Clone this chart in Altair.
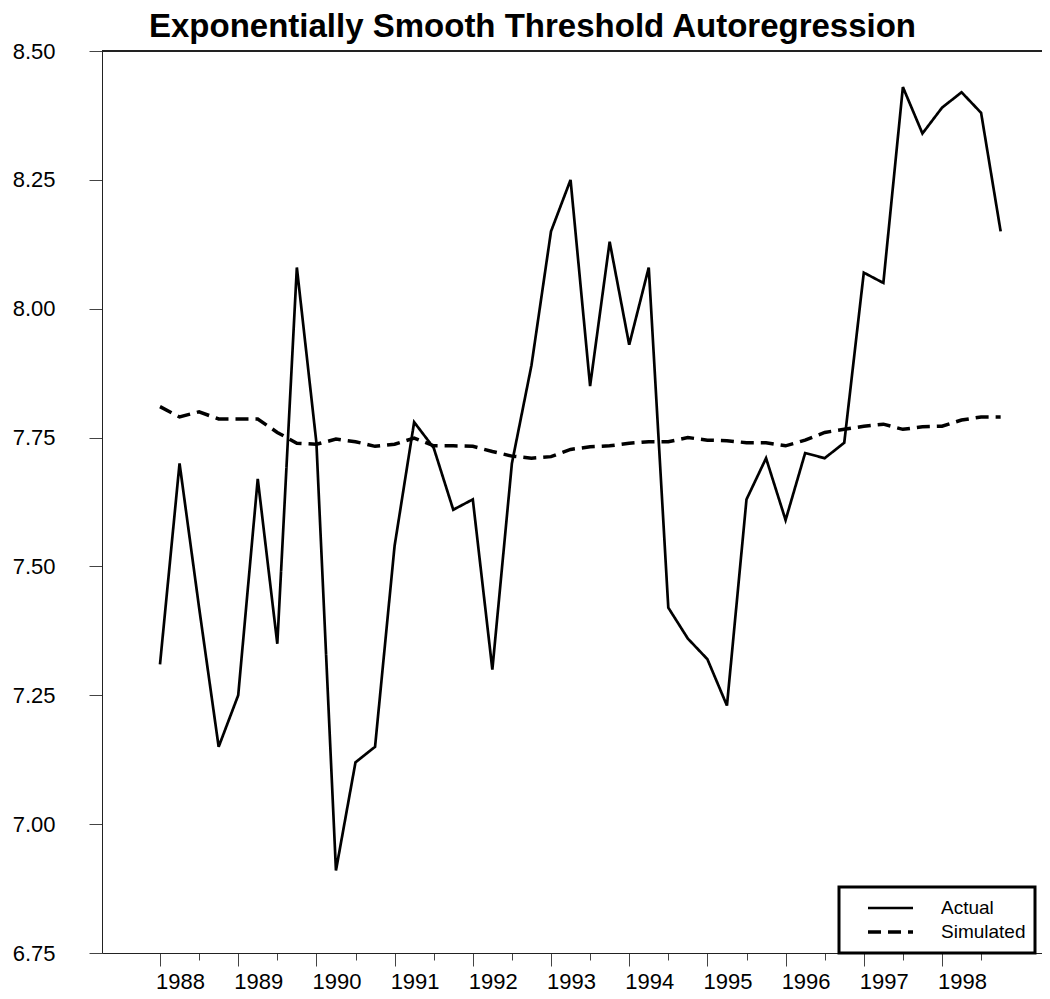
import altair as alt
import pandas as pd

# ---------------- data ----------------
years = list(range(1988, 1999))
quarter_steps = [0.0, 0.25, 0.5, 0.75]

actual = [
    7.31, 7.70, 7.42, 7.15,
    7.25, 7.67, 7.35, 8.08,
    7.74, 6.91, 7.12, 7.15,
    7.54, 7.78, 7.73, 7.61,
    7.63, 7.30, 7.70, 7.89,
    8.15, 8.25, 7.85, 8.13,
    7.93, 8.08, 7.42, 7.36,
    7.32, 7.23, 7.63, 7.71,
    7.59, 7.72, 7.71, 7.74,
    8.07, 8.05, 8.43, 8.34,
    8.39, 8.42, 8.38, 8.15,
]

simulated = [
    7.810, 7.790, 7.800, 7.786,
    7.786, 7.786, 7.760, 7.739,
    7.737, 7.747, 7.742, 7.733,
    7.737, 7.749, 7.734, 7.734,
    7.733, 7.723, 7.714, 7.710,
    7.713, 7.727, 7.732, 7.734,
    7.739, 7.742, 7.742, 7.750,
    7.745, 7.744, 7.740, 7.740,
    7.734, 7.745, 7.760, 7.766,
    7.772, 7.776, 7.766, 7.771,
    7.772, 7.784, 7.790, 7.790,
]

series_names = ["Actual", "Simulated"]
title_text = "Exponentially Smooth Threshold Autoregression"
y_ticks = [6.75, 7.00, 7.25, 7.50, 7.75, 8.00, 8.25, 8.50]
y_domain = [6.75, 8.50]

# ---------------- table ----------------
t = [y + q for y in years for q in quarter_steps]
df = pd.DataFrame({
    "t": t + t,
    "value": actual + simulated,
    "series": [series_names[0]] * len(actual) + [series_names[1]] * len(simulated),
})

FONT = "Liberation Sans"
PLOT_W = 940
PLOT_H = 902
x_domain = [1987.2583, 1987.2583 + PLOT_W / 78.2]
x_scale = alt.Scale(domain=x_domain, nice=False, zero=False)
y_scale = alt.Scale(domain=y_domain, nice=False, zero=False)

lines = alt.Chart(df).mark_line(color="black", strokeJoin="miter").encode(
    x=alt.X(
        "t:Q",
        scale=x_scale,
        axis=alt.Axis(
            values=t,
            labelExpr="datum.value % 1 === 0 ? format(datum.value, 'd') : ''",
            tickSize={"condition": {"test": "datum.value % 1 === 0", "value": 13}, "value": 7},
            labelOffset=20,
            labelPadding=5,
            labelFont=FONT,
            labelFontSize=22,
            labelColor="black",
            labelFlush=False,
            labelOverlap=False,
            title=None,
            grid=False,
            domainColor="#222222",
            tickColor="#444444",
            tickWidth=1,
        ),
    ),
    y=alt.Y(
        "value:Q",
        scale=y_scale,
        axis=alt.Axis(
            values=y_ticks,
            format=".2f",
            tickSize=13,
            labelPadding=34,
            labelFont=FONT,
            labelFontSize=22,
            labelColor="black",
            labelFlush=False,
            labelOverlap=False,
            title=None,
            grid=False,
            domainColor="#222222",
            tickColor="#444444",
            tickWidth=1,
        ),
    ),
    strokeDash=alt.StrokeDash(
        "series:N",
        scale=alt.Scale(domain=series_names, range=[[1, 0], [13, 7]]),
        legend=alt.Legend(
            title=None,
            orient="none",
            legendX=737,
            legendY=PLOT_H - 66,
            padding=9,
            clipHeight=24,
            rowPadding=0,
            symbolOffset=18,
            labelOffset=26,
            symbolSize=2025,
            symbolType="stroke",
            symbolStrokeWidth=3,
            symbolStrokeColor="black",
            labelFont=FONT,
            labelFontSize=19,
            labelColor="black",
            labelLimit=400,
            strokeColor="black",
            fillColor="white",
        ),
    ),
    strokeWidth=alt.StrokeWidth(
        "series:N",
        scale=alt.Scale(domain=series_names, range=[2.7, 3.5]),
        legend=None,
    ),
)

# top frame line at the upper end of the value axis
top_frame = alt.Chart(df).mark_rule(color="#222222", strokeWidth=1).encode(
    x=alt.datum(x_domain[0], scale=x_scale),
    x2=alt.datum(x_domain[1]),
    y=alt.datum(y_domain[1], scale=y_scale),
)

chart = alt.layer(top_frame, lines).properties(
    width=PLOT_W,
    height=PLOT_H,
    autosize=alt.AutoSizeParams(type="none"),
    padding={"left": 94, "top": 43, "right": 0, "bottom": 44},
    title=alt.TitleParams(
        title_text,
        font=FONT,
        fontSize=33,
        fontWeight="bold",
        color="black",
        anchor="start",
        frame="group",
        dx=47,
        baseline="alphabetic",
        offset=-30,
    ),
).configure_view(
    stroke=None,
).configure_legend(
    strokeWidth=3,
)

chart.save("out.html", embed_options={"renderer": "svg", "actions": False})
